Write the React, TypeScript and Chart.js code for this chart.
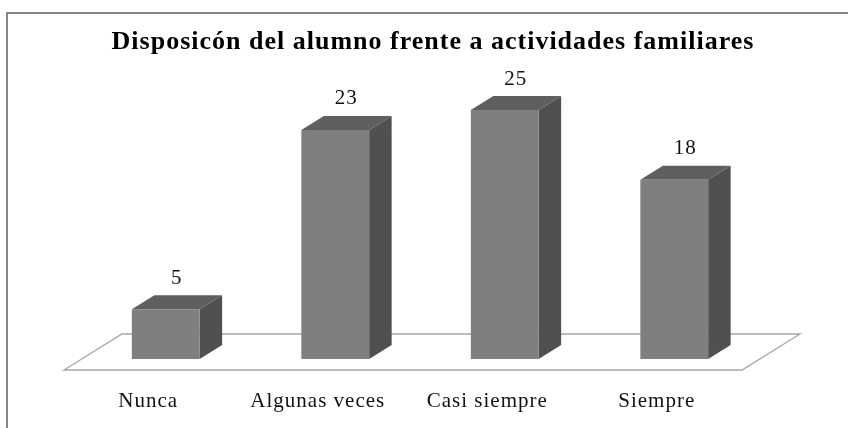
import React, { useEffect, useRef } from "react";
import { Chart, registerables } from "chart.js";

Chart.register(...registerables);

const categories = ["Nunca", "Algunas veces", "Casi siempre", "Siempre"];
const values = [5, 23, 25, 18];
const titleText = "Disposicón del alumno frente a actividades familiares";

const SERIF = "'Liberation Serif', 'Times New Roman', serif";
const DX = 22.5;
const DY = 14;
const FRONT = "#7f7f7f";
const TOP = "#5f5f5f";
const SIDE = "#505050";
const FLOOR = "#a6a6a6";

function poly(ctx: CanvasRenderingContext2D, pts: number[][], fill: string | null, stroke?: string) {
  ctx.beginPath();
  pts.forEach((p, i) => (i ? ctx.lineTo(p[0], p[1]) : ctx.moveTo(p[0], p[1])));
  ctx.closePath();
  if (fill) {
    ctx.fillStyle = fill;
    ctx.fill();
  }
  if (stroke) {
    ctx.strokeStyle = stroke;
    ctx.lineWidth = 1.3;
    ctx.stroke();
  }
}

const box3d = {
  id: "box3d",
  afterLayout(chart: any) {
    chart.titleBlock.left += 13;
    chart.titleBlock.right += 13;
  },
  beforeDraw(chart: any) {
    chart.ctx.letterSpacing = "1px";
  },
  beforeDatasetsDraw(chart: any) {
    const { ctx, chartArea, scales } = chart;
    const base = scales.y.getPixelForValue(0);
    const l = chartArea.left;
    const r = chartArea.right;
    ctx.save();
    poly(
      ctx,
      [
        [l - 17, base + 11],
        [r - 17, base + 11],
        [r + 41, base - 25],
        [l + 41, base - 25],
      ],
      null,
      FLOOR
    );
    chart.getDatasetMeta(0).data.forEach((bar: any) => {
      const hw = bar.width / 2;
      const x0 = bar.x - hw;
      const x1 = bar.x + hw;
      poly(ctx, [[x1, bar.y], [x1 + DX, bar.y - DY], [x1 + DX, base - DY], [x1, base]], SIDE);
      poly(ctx, [[x0, bar.y], [x0 + DX, bar.y - DY], [x1 + DX, bar.y - DY], [x1, bar.y]], TOP);
    });
    ctx.restore();
  },
  afterDatasetsDraw(chart: any) {
    const { ctx } = chart;
    ctx.save();
    ctx.font = `21px ${SERIF}`;
    ctx.fillStyle = "#111";
    ctx.textAlign = "center";
    ctx.textBaseline = "middle";
    chart.getDatasetMeta(0).data.forEach((bar: any, i: number) => {
      ctx.fillText(String(values[i]), bar.x + 11, bar.y - 31);
    });
    ctx.restore();
  },
};

export default function App() {
  const ref = useRef<HTMLCanvasElement>(null);
  useEffect(() => {
    const chart = new Chart(ref.current!, {
      type: "bar",
      data: {
        labels: categories,
        datasets: [
          {
            data: values,
            backgroundColor: FRONT,
            barPercentage: 0.8,
            categoryPercentage: 0.5,
          },
        ],
      },
      plugins: [box3d],
      options: {
        animation: false,
        responsive: false,
        layout: { padding: { left: 81, right: 89, top: 0, bottom: 0 } },
        plugins: {
          legend: { display: false },
          tooltip: { enabled: false },
          title: {
            display: true,
            text: titleText,
            color: "#000",
            font: { family: SERIF, size: 26, weight: "bold" },
            padding: { top: 27, bottom: 2 },
          },
        },
        scales: {
          x: {
            afterFit: (s: any) => {
              s.height = 69;
            },
            grid: { display: false, drawTicks: false },
            border: { display: false },
            ticks: {
              color: "#111",
              font: { family: SERIF, size: 21 },
              labelOffset: -17.5,
              padding: 30,
              maxRotation: 0,
            },
          },
          y: { display: false, min: 0, max: 30 },
        },
      } as any,
    });
    return () => chart.destroy();
  }, []);
  return (
    <div style={{ position: "absolute", left: 0, top: 0, width: 848, height: 428, background: "#fff", overflow: "hidden" }}>
      <div
        style={{
          position: "absolute",
          left: 6,
          top: 12,
          width: 860,
          height: 430,
          border: "2px solid #868686",
        }}
      />
      <canvas ref={ref} width={848} height={428} style={{ position: "absolute", left: 0, top: 0 }} />
    </div>
  );
}
